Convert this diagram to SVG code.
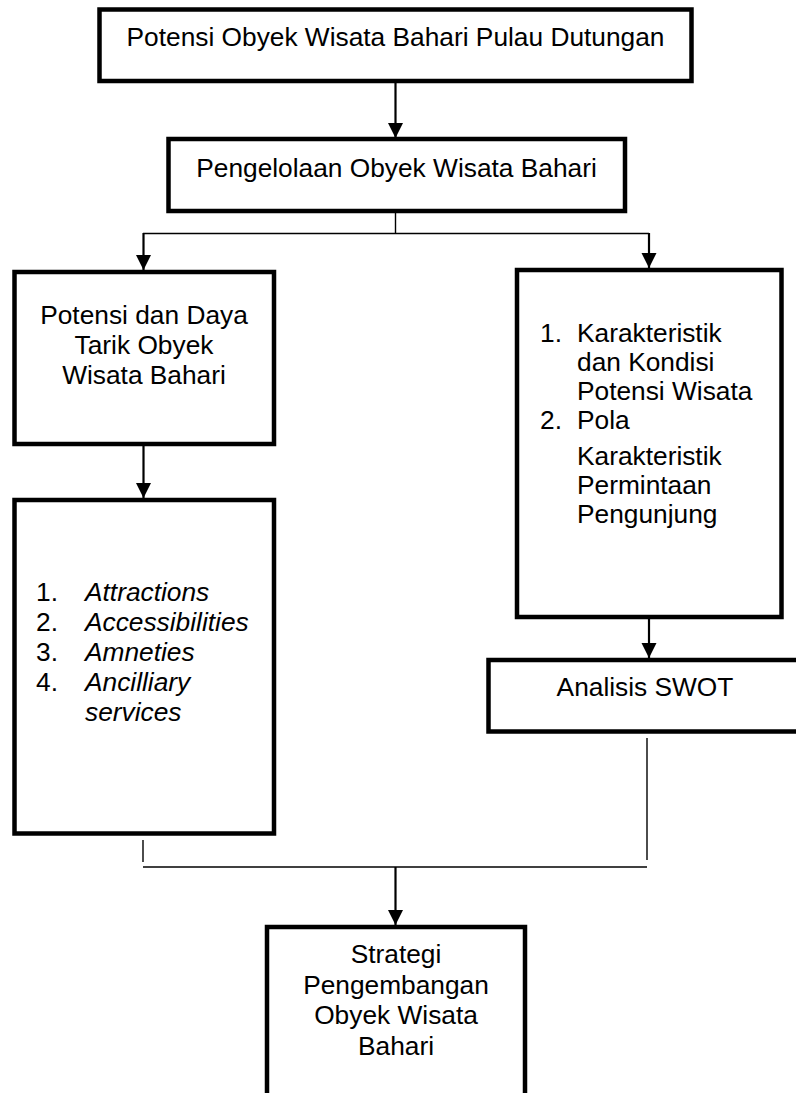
<svg xmlns="http://www.w3.org/2000/svg" width="796" height="1093" viewBox="0 0 796 1093">
<style>
.box{fill:#fff;stroke:#000;stroke-width:4.5}
.t{font-family:"Liberation Sans",Arial,sans-serif;font-size:26.3px;fill:#000}
.c{text-anchor:middle}
.i{font-style:italic}
.thin{fill:none;stroke:#000;stroke-width:1.4}
.arr{fill:none;stroke:#000;stroke-width:2.2;marker-end:url(#ah)}
</style>
<defs>
<marker id="ah" markerUnits="userSpaceOnUse" markerWidth="16" markerHeight="16" refX="15" refY="7.5" orient="auto">
<path d="M0,0 L15,7.5 L0,15 z" fill="#000"/>
</marker>
</defs>
<rect width="796" height="1093" fill="#fff"/>
<g id="connectors">
<line class="arr" x1="395.5" y1="82" x2="395.5" y2="138"/>
<line class="thin" x1="395.5" y1="212" x2="395.5" y2="233.5"/>
<line class="thin" x1="143" y1="233.5" x2="649" y2="233.5"/>
<line class="arr" x1="143.5" y1="233" x2="143.5" y2="270"/>
<line class="arr" x1="649" y1="233" x2="649" y2="268"/>
<line class="arr" x1="143.5" y1="445" x2="143.5" y2="498"/>
<line class="arr" x1="649" y1="618" x2="649" y2="658"/>
<line class="thin" x1="143" y1="840" x2="143" y2="862"/>
<line class="thin" x1="647" y1="738" x2="647" y2="860"/>
<line class="thin" x1="143" y1="867" x2="647" y2="867"/>
<line class="arr" x1="395.5" y1="867" x2="395.5" y2="925"/>
</g>
<g id="node-potensi-obyek">
<rect class="box" x="99.5" y="9.5" width="592" height="71.5"/>
<text class="t c" x="395.5" y="46">Potensi Obyek Wisata Bahari Pulau Dutungan</text>
</g>
<g id="node-pengelolaan">
<rect class="box" x="168.5" y="139" width="456.5" height="72"/>
<text class="t c" x="396.5" y="177">Pengelolaan Obyek Wisata Bahari</text>
</g>
<g id="node-potensi-daya">
<rect class="box" x="14.5" y="272" width="259.5" height="172"/>
<text class="t c" x="144" y="324">Potensi dan Daya</text>
<text class="t c" x="144" y="354">Tarik Obyek</text>
<text class="t c" x="144" y="384">Wisata Bahari</text>
</g>
<g id="node-4a">
<rect class="box" x="14.5" y="500" width="259.5" height="333.5"/>
<text class="t" x="36" y="601">1.</text><text class="t i" x="85" y="601">Attractions</text>
<text class="t" x="36" y="631">2.</text><text class="t i" x="85" y="631">Accessibilities</text>
<text class="t" x="36" y="661">3.</text><text class="t i" x="85" y="661">Amneties</text>
<text class="t" x="36" y="691">4.</text><text class="t i" x="85" y="691">Ancilliary</text>
<text class="t i" x="85" y="721">services</text>
</g>
<g id="node-karakteristik">
<rect class="box" x="517" y="270" width="264.5" height="347"/>
<text class="t" x="540" y="342">1.</text><text class="t" x="577" y="342">Karakteristik</text>
<text class="t" x="577" y="371">dan Kondisi</text>
<text class="t" x="577" y="400">Potensi Wisata</text>
<text class="t" x="540" y="429">2.</text><text class="t" x="577" y="429">Pola</text>
<text class="t" x="577" y="465">Karakteristik</text>
<text class="t" x="577" y="494">Permintaan</text>
<text class="t" x="577" y="523">Pengunjung</text>
</g>
<g id="node-swot">
<rect class="box" x="488.5" y="660" width="320" height="71.5"/>
<text class="t c" x="645" y="696">Analisis SWOT</text>
</g>
<g id="node-strategi">
<rect class="box" x="267" y="927" width="258" height="180"/>
<text class="t c" x="396" y="963">Strategi</text>
<text class="t c" x="396" y="994">Pengembangan</text>
<text class="t c" x="396" y="1024">Obyek Wisata</text>
<text class="t c" x="396" y="1055">Bahari</text>
</g>
</svg>
